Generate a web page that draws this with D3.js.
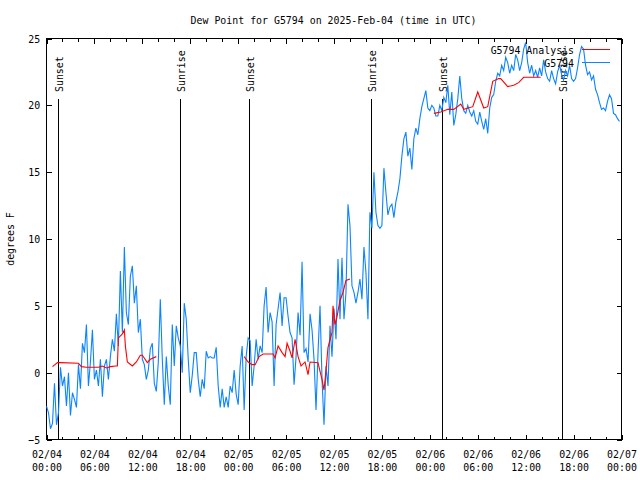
<!DOCTYPE html>
<html><head><meta charset="utf-8">
<script src="https://cdn.jsdelivr.net/npm/d3@7"></script>
<style>body{margin:0;background:#fff} svg{display:block}</style>
</head><body>
<svg id="chart" width="640" height="480"></svg>
<script>
const titleText = "Dew Point for G5794 on 2025-Feb-04 (time in UTC)";
const yLabelText = "degrees F";
const startTime = Date.UTC(2025, 1, 4, 0, 0);
const spanHours = 72;
const yTicks = [-5, 0, 5, 10, 15, 20, 25];
const xMajorHours = [0, 6, 12, 18, 24, 30, 36, 42, 48, 54, 60, 66, 72];
const xMinorHours = [2, 4, 8, 10, 14, 16, 20, 22, 26, 28, 32, 34, 38, 40, 44, 46, 50, 52, 56, 58, 62, 64, 68, 70];
const seriesNames = ["G5794 Analysis", "G5794"];

// observed G5794 dew point, one value every 15 minutes from 02/04 00:00 UTC
const obsStepMinutes = 15;
const obsValues = [
 -2.5,-3.0,-4.2,-3.8,  -0.8,-3.9,-3.0,0.4,  -1.0,-0.3,-2.5,0.0,  -3.2,-1.5,-2.0,-2.6,
 0.6,-1.2,2.2,1.5,  3.6,-1.0,0.8,3.2,  -0.5,0.2,-1.0,1.0,  -1.8,0.5,1.0,-0.5,
 1.2,2.5,1.6,4.4,  2.0,7.6,3.0,9.4,  4.5,3.6,7.2,8.0,  5.2,6.5,3.0,4.0,
 1.0,0.6,-0.5,0.2,  1.8,2.2,-0.8,-1.4,  0.8,5.5,1.0,-2.4,  1.2,-1.0,-2.4,3.6,
 0.5,3.5,2.6,2.0,  0.0,5.2,4.0,1.0,  -1.5,-0.2,1.5,1.5,  -0.5,-1.8,-0.5,-1.2,
 1.6,1.1,1.2,1.1,  1.1,1.9,-1.0,-2.6,  -1.2,-2.6,-1.8,-2.6,  -1.0,-1.5,0.2,-1.6,
 -2.4,0.5,2.0,-2.8,  1.2,2.6,2.4,-1.0,  0.5,2.5,1.0,2.0,  1.5,5.0,6.4,3.0,
 4.5,3.8,-1.0,3.6,  4.8,6.0,3.5,5.6,  5.6,4.2,3.0,2.6,  -0.9,1.2,4.5,2.8,
 8.3,1.5,1.8,0.8,  4.4,3.2,1.0,-2.8,  1.5,5.0,-0.5,-3.9,  0.5,-1.0,3.5,1.2,
 4.8,2.5,8.5,4.0,  8.6,4.0,6.0,12.6,  11.0,6.5,6.0,5.2,  6.0,7.0,5.5,9.4,
 7.5,4.0,12.0,10.8,  15.0,12.0,11.0,10.8,  11.0,15.3,13.5,11.8,  12.4,12.6,11.6,12.8,
 13.5,14.5,16.2,17.5,  18.0,16.2,16.8,15.2,  17.5,18.3,17.8,19.0,  19.9,20.5,21.1,19.8,
 19.6,20.0,19.8,19.2,  19.2,20.0,19.6,20.6,  20.2,21.5,19.3,21.0,  18.5,19.3,20.5,22.2,
 20.5,19.6,19.4,20.0,  19.5,19.2,19.6,18.8,  18.6,19.5,18.8,18.2,  19.0,17.9,19.8,20.6,
 20.8,21.8,22.4,22.2,  23.0,22.6,23.6,23.2,  22.4,23.0,22.6,23.8,  23.4,22.6,23.2,24.2,
 24.7,23.2,22.4,23.0,  22.2,22.6,22.1,22.8,  22.2,23.4,22.5,22.0,  21.8,22.6,22.0,21.6,
 22.5,23.0,22.3,21.9,  22.6,22.2,23.0,22.0,  21.8,22.0,22.8,23.8,  24.4,24.2,23.0,22.3,
 22.5,21.9,22.2,21.2,  20.8,20.2,19.7,19.8,  19.6,20.3,20.8,20.5,  19.4,19.3,19.0,18.8
];

// analysis series (hours after start, value); null = no analysis
const anaHours = [0.75,1.375,1.75,4.0,4.375,5.0,6.5,7.0,7.5,8.0,8.625,8.875,9.0,9.5,9.75,9.875,10.125,10.75,11.25,11.75,12.0,12.625,13.0,13.75,14.0,
 24.75,25.25,25.75,26.125,26.625,27.125,28.375,28.625,29.0,29.5,29.875,30.125,30.5,30.75,31.125,31.5,31.875,32.375,32.75,33.0,34.0,34.25,34.5,34.75,35.0,35.25,35.75,35.875,36.125,36.375,36.75,37.125,37.5,38.0,38.25,
 48.5,49.375,50.25,51.0,51.875,52.25,53.375,54.0,54.75,55.25,55.875,56.625,56.875,57.75,58.5,59.125,59.75,61.875];
const anaValues = [0.45,0.75,0.75,0.7,0.45,0.4,0.4,0.5,0.35,0.45,0.5,0.5,2.6,2.9,3.2,2.0,0.8,0.5,0.8,1.3,1.3,0.75,1.0,1.2,null,
 1.2,0.8,0.6,0.6,1.2,1.4,1.4,1.1,2.0,1.5,1.2,2.2,1.6,1.1,2.5,1.2,0.5,0.8,-0.15,0.8,0.75,0.1,-0.5,-1.3,0.2,1.9,3.0,5.0,3.6,4.2,5.4,6.0,6.9,7.0,null,
 19.4,19.5,19.7,19.7,20.1,19.7,19.9,21.0,19.8,19.9,21.8,22.0,22.0,21.4,21.5,21.7,22.1,22.1];

const sunLabels = ["Sunset", "Sunrise", "Sunset", "Sunrise", "Sunset", "Sunrise"];
const sunHours = [1.41, 16.68, 25.4, 40.58, 49.5, 64.6];

const HOUR = 3600000;
const toDate = h => new Date(startTime + h * HOUR);
const FONT = "'DejaVu Sans Mono', monospace";
const FS = 11, SX = 0.9;
const BLUE = "#0b84ff", RED = "#ff0000";

const svg = d3.select("#chart");
svg.append("rect").attr("width", 640).attr("height", 480).attr("fill", "#fff");

const L = 46.5, R = 621.5, T = 38.5, B = 439.5;
const x = d3.scaleUtc().domain([toDate(0), toDate(spanHours)]).range([L, R]);
const y = d3.scaleLinear().domain([-5, 25]).range([B, T]);

function styleAxis(g) {
  g.select(".domain").remove();
  g.selectAll(".tick line").attr("stroke", "#000").attr("shape-rendering", "crispEdges");
  g.selectAll("text").attr("font-family", FONT).attr("font-size", FS).attr("fill", "#000");
}

// minor x ticks (bottom and top)
svg.append("g").attr("transform", `translate(0,${B})`)
  .call(d3.axisBottom(x).tickValues(xMinorHours.map(toDate)).tickSize(-3).tickFormat(""))
  .call(styleAxis);
svg.append("g").attr("transform", `translate(0,${T})`)
  .call(d3.axisTop(x).tickValues(xMinorHours.map(toDate)).tickSize(-3).tickFormat(""))
  .call(styleAxis);

// major x ticks with two-line labels
const fmtDay = d3.utcFormat("%m/%d"), fmtTime = d3.utcFormat("%H:%M");
const xAxis = svg.append("g").attr("transform", `translate(0,${B})`)
  .call(d3.axisBottom(x).tickValues(xMajorHours.map(toDate)).tickSize(-5).tickPadding(10.5).tickFormat(fmtDay))
  .call(styleAxis);
xAxis.selectAll(".tick text").each(function(d) {
  const t = d3.select(this);
  t.text(null).attr("transform", `scale(${SX},1)`);
  t.append("tspan").attr("x", 0).text(fmtDay(d));
  t.append("tspan").attr("x", 0).attr("dy", 13).text(fmtTime(d));
});
svg.append("g").attr("transform", `translate(0,${T})`)
  .call(d3.axisTop(x).tickValues(xMajorHours.map(toDate)).tickSize(-5).tickFormat(""))
  .call(styleAxis);

// y axes
svg.append("g").attr("transform", `translate(${L},0)`)
  .call(d3.axisLeft(y).tickValues(yTicks).tickSize(-5).tickPadding(7).tickFormat(d3.format("d")))
  .call(styleAxis)
  .selectAll(".tick text").attr("transform", `scale(${SX},1)`);
svg.append("g").attr("transform", `translate(${R},0)`)
  .call(d3.axisRight(y).tickValues(yTicks).tickSize(-5).tickFormat(""))
  .call(styleAxis);

// border
svg.append("rect").attr("x", L).attr("y", T).attr("width", R - L).attr("height", B - T)
  .attr("fill", "none").attr("stroke", "#000").attr("shape-rendering", "crispEdges");

// sunrise / sunset markers
const sun = svg.append("g");
sunHours.forEach((h, i) => {
  const xx = Math.round(x(toDate(h))) + 0.5;
  sun.append("line").attr("x1", xx).attr("x2", xx).attr("y1", 99).attr("y2", B)
    .attr("stroke", "#000").attr("shape-rendering", "crispEdges");
  sun.append("text").attr("transform", `translate(${xx + 4.5},92) rotate(-90) scale(${SX},1)`)
    .attr("font-family", FONT).attr("font-size", FS).attr("fill", "#000").text(sunLabels[i]);
});

// data lines
const obsData = obsValues.map((v, i) => ({ t: new Date(startTime + i * obsStepMinutes * 60000), v }));
const anaData = anaHours.map((h, i) => ({ t: toDate(h), v: anaValues[i] }));
const line = d3.line().defined(d => d.v != null).x(d => x(d.t)).y(d => y(d.v));

svg.append("path").datum(obsData).attr("d", line)
  .attr("fill", "none").attr("stroke", BLUE).attr("stroke-width", 1.1);
svg.append("path").datum(anaData).attr("d", line)
  .attr("fill", "none").attr("stroke", RED).attr("stroke-width", 1.1);

// legend
const legendColors = [RED, BLUE];
seriesNames.forEach((name, i) => {
  const by = 53.5 + i * 13;
  svg.append("text").attr("transform", `translate(574,${by}) scale(${SX},1)`)
    .attr("text-anchor", "end").attr("font-family", FONT).attr("font-size", FS)
    .attr("fill", "#000").text(name);
  svg.append("line").attr("x1", 582).attr("x2", 610).attr("y1", by - 4).attr("y2", by - 4)
    .attr("stroke", legendColors[i]).attr("shape-rendering", "crispEdges");
});

// title and y label
svg.append("text").attr("transform", `translate(333.5,24) scale(${SX},1)`)
  .attr("text-anchor", "middle").attr("font-family", FONT).attr("font-size", FS)
  .attr("fill", "#000").text(titleText);
svg.append("text").attr("transform", `translate(14,239) rotate(-90) scale(${SX},1)`)
  .attr("text-anchor", "middle").attr("font-family", FONT).attr("font-size", FS)
  .attr("fill", "#000").text(yLabelText);
</script>
</body></html>
